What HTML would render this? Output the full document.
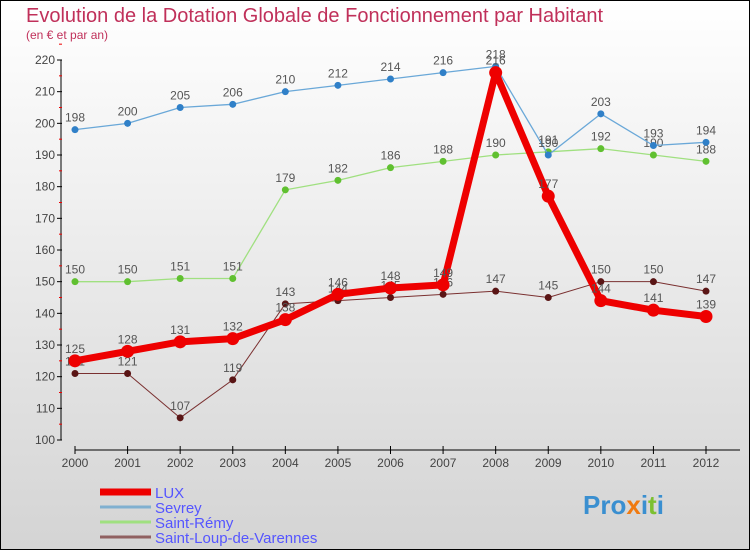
<!DOCTYPE html>
<html><head><meta charset="utf-8"><style>
body{margin:0;}
#c{width:750px;height:550px;position:relative;overflow:hidden;font-family:"Liberation Sans",sans-serif;}
</style></head><body>
<div id="c">
<svg id="s" width="750" height="550" xmlns="http://www.w3.org/2000/svg">
<defs><linearGradient id="bg" x1="0" y1="0" x2="0" y2="1"><stop offset="0" stop-color="#ffffff"/><stop offset="1" stop-color="#d4d4d4"/></linearGradient></defs>
<rect x="0.5" y="0.5" width="749" height="549" fill="url(#bg)" stroke="#000"/>
<text x="26" y="22" font-size="20" fill="#c0305a">Evolution de la Dotation Globale de Fonctionnement par Habitant</text>
<text x="26" y="39" font-size="12" fill="#c0305a">(en € et par an)</text>
<g id="axes"></g><g id="series"></g><g id="legend"></g>
<text x="583" y="514" font-size="26" font-weight="bold" fill="#3a8fd0">Pro<tspan fill="#f07a10">x</tspan>i<tspan fill="#7cc030">t</tspan>i</text>
</svg></div>
<script>
const years=[2000,2001,2002,2003,2004,2005,2006,2007,2008,2009,2010,2011,2012];
const yTicks=[100,110,120,130,140,150,160,170,180,190,200,210,220];
const lux=[125,128,131,132,138,146,148,149,216,177,144,141,139];
const sevrey=[198,200,205,206,210,212,214,216,218,190,203,193,194];
const remy=[150,150,151,151,179,182,186,188,190,191,192,190,188];
const loup=[121,121,107,119,143,144,145,146,147,145,150,150,147];
const NS="http://www.w3.org/2000/svg";
function X(i){return 75+i*(706-75)/12;}
function Y(v){return 440-(v-100)*(380/120);}
function mk(t,a,p){const e=document.createElementNS(NS,t);for(const k in a)e.setAttribute(k,a[k]);p.appendChild(e);return e;}
const ax=document.getElementById('axes');
let e=mk('line',{x1:61,y1:60,x2:61,y2:440,stroke:'#000'},ax);


e=mk('line',{x1:75,y1:450,x2:740,y2:450,stroke:'#000'},ax);


yTicks.forEach(v=>{
 mk('line',{x1:57,y1:Y(v),x2:62,y2:Y(v),stroke:'#000'},ax);
 mk('line',{x1:59,y1:Y(v+5),x2:62,y2:Y(v+5),stroke:'#e00'},ax);
 const t=mk('text',{x:55,y:Y(v)+4,'font-size':12,fill:'#444','text-anchor':'end'},ax);t.textContent=v;
 
 
});
years.forEach((y,i)=>{
 mk('line',{x1:X(i),y1:446,x2:X(i),y2:454,stroke:'#000'},ax);
 const t=mk('text',{x:X(i),y:467,'font-size':12,fill:'#444','text-anchor':'middle'},ax);t.textContent=y;
 
 
});
const sg=document.getElementById('series');
function series(vals,color,dot,w,r,name,labelColor){
 const g=mk('g',{},sg);
 
 
 const l=mk('polyline',{points:vals.map((v,i)=>X(i)+','+Y(v)).join(' '),fill:'none',stroke:color,'stroke-width':w,'stroke-linejoin':'round'},g);
 
 
 vals.forEach((v,i)=>{
  const c=mk('circle',{cx:X(i),cy:Y(v),r:r,fill:dot},g);
  
  
  const t=mk('text',{x:X(i),y:Y(v)-8,'font-size':12,fill:'#555','text-anchor':'middle'},g);t.textContent=v;
  
  
 });
}
series(loup,'#7a3030','#5a1515',1,3.5,'saint-loup');
series(remy,'#a0e080','#60c030',1.3,3.5,'saint-remy');
series(sevrey,'#6aa8d8','#3080c8',1.3,3.5,'sevrey');
series(lux,'#ee0000','#ee0000',7,6.5,'lux');
const lg=document.getElementById('legend');
[['LUX','#ee0000',7],['Sevrey','#80b0d0',3],['Saint-Rémy','#a0e080',3],['Saint-Loup-de-Varennes','#906060',3]].forEach((d,i)=>{
 const y=492+i*15;
 const l=mk('line',{x1:100,y1:y,x2:151,y2:y,stroke:d[1],'stroke-width':d[2]},lg);
 
 
 const t=mk('text',{x:155,y:y+6,'font-size':15,fill:'#5555ff'},lg);t.textContent=d[0];
 
 
});
</script>
</body></html>
